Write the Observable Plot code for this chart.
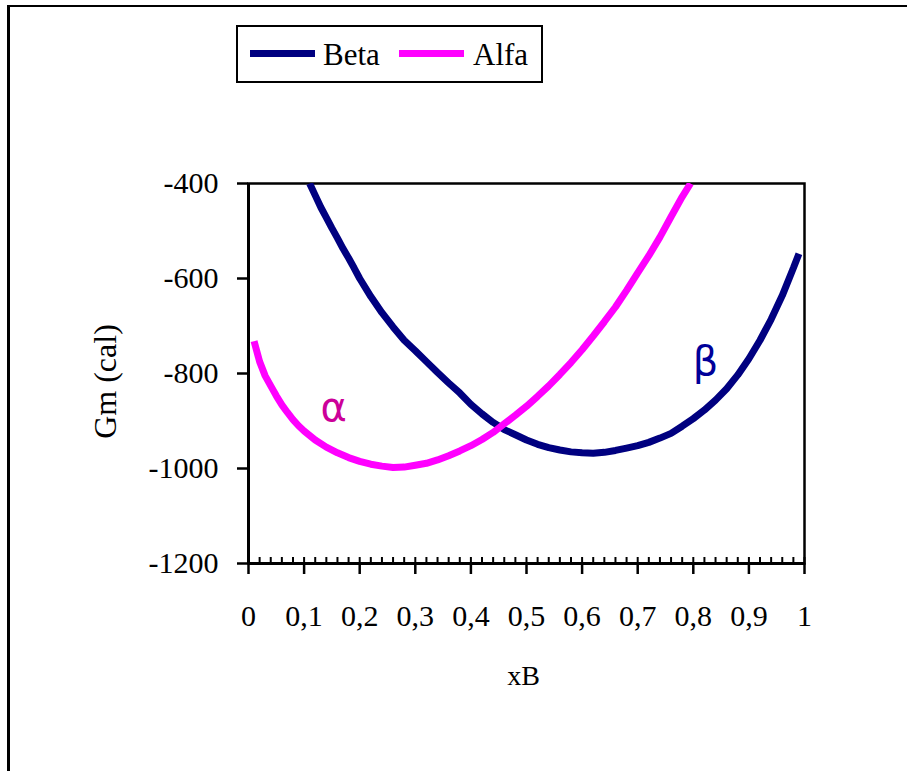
<!DOCTYPE html>
<html>
<head>
<meta charset="utf-8">
<script src="https://cdn.jsdelivr.net/npm/d3@7"></script>
<script src="https://cdn.jsdelivr.net/npm/@observablehq/plot@0.6"></script>
<style>
  html, body { margin: 0; padding: 0; background: #fff; }
  #wrap { position: relative; width: 907px; height: 771px; overflow: hidden; background: #fff; }
  #outer { position: absolute; left: 7px; top: 5px; width: 1000px; height: 1000px;
           border-left: 3px solid #000; border-top: 2px solid #000; box-sizing: border-box; pointer-events: none; }
  #legend { position: absolute; left: 236px; top: 25px; width: 307px; height: 58px;
            border: 2px solid #000; box-sizing: border-box; background: #fff;
            font-family: "Liberation Serif", "Times New Roman", serif; font-size: 31px; color: #000; }
  .sw { position: absolute; height: 7px; width: 65px; top: 23px; }
  .lt { position: absolute; top: 12px; line-height: 31px; white-space: nowrap; }
</style>
</head>
<body>
<div id="wrap">
  <div id="outer"></div>
</div>
<script>
// Series: x (mole fraction xB) and Gm (cal)
const betaX = [0.11,0.12,0.13,0.14,0.15,0.16,0.17,0.18,0.19,0.20,0.22,0.24,0.26,0.28,0.30,0.32,0.34,0.36,0.38,0.40,0.42,0.44,0.46,0.48,0.50,0.52,0.54,0.56,0.58,0.60,0.62,0.64,0.66,0.68,0.70,0.72,0.74,0.76,0.78,0.80,0.82,0.84,0.86,0.88,0.90,0.92,0.94,0.96,0.98,0.99];
const betaG = [-400,-425,-450,-472,-494,-515,-537,-557,-578,-600,-638,-672,-702,-730,-752,-775,-798,-820,-841,-865,-885,-903,-918,-929,-940,-949,-956,-961,-965,-967,-968,-966,-962,-957,-952,-945,-936,-926,-911,-895,-877,-856,-832,-803,-769,-730,-686,-636,-578,-548];
const alfaX = [0.01,0.02,0.03,0.04,0.05,0.06,0.07,0.08,0.09,0.10,0.12,0.14,0.16,0.18,0.20,0.22,0.24,0.26,0.28,0.30,0.32,0.34,0.36,0.38,0.40,0.42,0.44,0.46,0.48,0.50,0.52,0.54,0.56,0.58,0.60,0.62,0.64,0.66,0.68,0.70,0.72,0.74,0.76,0.78,0.795];
const alfaG = [-732,-775,-805,-826,-847,-866,-882,-897,-910,-921,-940,-955,-967,-977,-985,-991,-995,-998,-997,-993,-989,-982,-973,-963,-952,-939,-924,-906,-888,-869,-848,-826,-802,-777,-750,-721,-691,-660,-625,-588,-552,-513,-470,-428,-400];

const seriesNames = ["Beta", "Alfa"];
const seriesColors = ["#000080", "#FF00FF"];

const xTicks = [0,0.1,0.2,0.3,0.4,0.5,0.6,0.7,0.8,0.9,1];
const xTickLabels = ["0","0,1","0,2","0,3","0,4","0,5","0,6","0,7","0,8","0,9","1"];
const xMinorTicks = d3.range(0, 51).map(i => i / 50);
const yTicks = [-1200,-1000,-800,-600,-400];
const yTickLabels = ["-1200","-1000","-800","-600","-400"];

const phaseLabels = ["α", "β"];
const phaseLabelX = [0.153, 0.822];
const phaseLabelG = [-874, -777];
const phaseLabelColors = ["#CC0099", "#000099"];

const xTitle = "xB";
const yTitle = "Gm (cal)";

const beta = betaX.map((x, i) => ({x, g: betaG[i]}));
const alfa = alfaX.map((x, i) => ({x, g: alfaG[i]}));
const phases = phaseLabels.map((t, i) => ({t, x: phaseLabelX[i], g: phaseLabelG[i], c: phaseLabelColors[i]}));

const chart = Plot.plot({
  width: 907,
  height: 771,
  marginLeft: 248,
  marginRight: 103,
  marginTop: 183,
  marginBottom: 208,
  x: {domain: [0, 1]},
  y: {domain: [-1200, -400]},
  style: {fontFamily: "'Liberation Serif', 'Times New Roman', serif", fontSize: "30px", color: "#000", background: "transparent", overflow: "visible"},
  marks: [
    Plot.frame({stroke: "#000", strokeWidth: 2.5}),
    Plot.axisY({ticks: yTicks, tickSize: 11, tickPadding: 19, strokeWidth: 2.5, tickFormat: (d) => yTickLabels[yTicks.indexOf(d)], label: null}),
    Plot.axisX({ticks: xTicks, tickSize: 11, tickPadding: 30, strokeWidth: 2.5, tickFormat: (d) => xTickLabels[xTicks.indexOf(d)], label: null}),
    Plot.axisX({ticks: xMinorTicks, tickSize: 6, dy: -6, strokeWidth: 2, tickFormat: () => "", label: null}),
    Plot.ruleX([0], {stroke: "#000", strokeWidth: 3}),
    Plot.ruleY([-1200], {stroke: "#000", strokeWidth: 3}),
    Plot.line(beta, {x: "x", y: "g", stroke: seriesColors[0], strokeWidth: 7, strokeLinejoin: "miter", strokeLinecap: "butt", clip: true}),
    Plot.line(alfa, {x: "x", y: "g", stroke: seriesColors[1], strokeWidth: 7, strokeLinejoin: "miter", strokeLinecap: "butt", clip: true}),
    Plot.text(phases, {x: "x", y: "g", text: "t", fill: "c", fontSize: 40, fontFamily: "'DejaVu Sans', 'Noto Sans', sans-serif"}),
    Plot.text([yTitle], {frameAnchor: "left", textAnchor: "middle", lineAnchor: "middle", dx: -143, dy: 8, rotate: -90, fontSize: 32}),
    Plot.text([xTitle], {frameAnchor: "bottom", textAnchor: "middle", lineAnchor: "middle", dx: -3, dy: 113, fontSize: 28})
  ]
});

const wrap = document.getElementById("wrap");
chart.style.position = "absolute";
chart.style.left = "0px";
chart.style.top = "0px";
wrap.insertBefore(chart, wrap.firstChild);

// Legend (HTML, overlaid above the plot area)
const legend = document.createElement("div");
legend.id = "legend";
const swLeft = [12, 161];
const txtLeft = [85, 235];
seriesNames.forEach((name, i) => {
  const sw = document.createElement("div");
  sw.className = "sw";
  sw.style.left = swLeft[i] + "px";
  sw.style.background = seriesColors[i];
  legend.appendChild(sw);
  const t = document.createElement("div");
  t.className = "lt";
  t.style.left = txtLeft[i] + "px";
  t.textContent = name;
  legend.appendChild(t);
});
wrap.appendChild(legend);
</script>
</body>
</html>
